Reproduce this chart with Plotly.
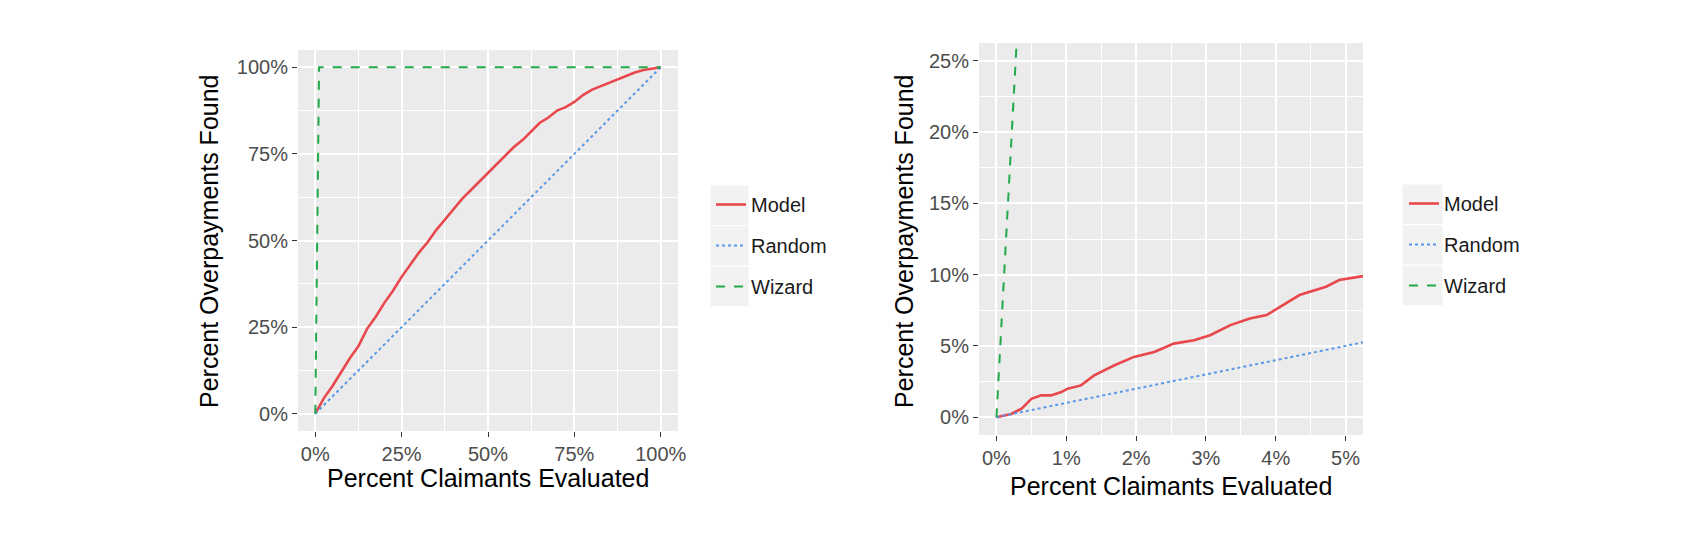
import plotly.graph_objects as go

# ---------------- data (percent units) ----------------
series_names = ["Model", "Random", "Wizard"]

model_x_full = [0, 2.5, 5, 7.5, 10, 12.5, 15, 17.5, 20, 22.5, 25, 27.5, 30, 32.5, 35, 37.5, 40,
                42.5, 45, 47.5, 50, 52.5, 55, 57.5, 60, 62.5, 65, 67.5, 70, 72.5, 75, 77.5, 80,
                82.5, 85, 87.5, 90, 92.5, 95, 97.5, 100]
model_y_full = [0, 4.5, 8, 12, 16, 19.5, 24.5, 28, 32, 35.5, 39.5, 43, 46.5, 49.5, 53, 56, 59,
                62, 64.5, 67, 69.5, 72, 74.5, 77, 79, 81.5, 84, 85.5, 87.5, 88.5, 90, 92, 93.5,
                94.5, 95.5, 96.5, 97.5, 98.5, 99.2, 99.7, 100]

model_x_zoom = [0, 0.21, 0.36, 0.5, 0.64, 0.78, 0.93, 1.02, 1.21, 1.4, 1.69, 1.97, 2.26, 2.54, 2.83,
                3.06, 3.35, 3.63, 3.87, 4.06, 4.34, 4.72, 4.91, 5.25]
model_y_zoom = [0, 0.23, 0.59, 1.29, 1.53, 1.53, 1.76, 2.0, 2.23, 2.93, 3.64, 4.23, 4.58, 5.16, 5.4,
                5.75, 6.46, 6.92, 7.16, 7.75, 8.57, 9.15, 9.62, 9.9]

random_x = [0, 100]
random_y = [0, 100]

wizard_x = [0, 1.1, 100]
wizard_y = [0, 100, 100]

left_ticks = [0, 25, 50, 75, 100]
left_tick_text = ["0%", "25%", "50%", "75%", "100%"]
left_minor = [12.5, 37.5, 62.5, 87.5]

right_x_ticks = [0, 1, 2, 3, 4, 5]
right_x_text = ["0%", "1%", "2%", "3%", "4%", "5%"]
right_x_minor = [0.5, 1.5, 2.5, 3.5, 4.5]
right_y_ticks = [0, 5, 10, 15, 20, 25]
right_y_text = ["0%", "5%", "10%", "15%", "20%", "25%"]
right_y_minor = [2.5, 7.5, 12.5, 17.5, 22.5]

x_title = "Percent Claimants Evaluated"
y_title = "Percent Overpayments Found"

# ---------------- styling ----------------
W, H = 1682, 556
OFF = 8  # page body margin in the browser
FONT = "Liberation Sans, Arial, sans-serif"
RED, BLUE, GREEN = "#E8474B", "#5B97E6", "#22A94A"
PANEL = "#EBEBEB"

def px_x(x):
    return (x - OFF) / W

def px_y(y):
    return 1 - (y - OFF) / H

fig = go.Figure()

styles = {
    "Model": dict(color=RED, width=2.6, dash="solid"),
    "Random": dict(color=BLUE, width=2.0, dash="dot"),
    "Wizard": dict(color=GREEN, width=2.0, dash="dash"),
}

left_data = {
    "Model": (model_x_full, model_y_full),
    "Random": (random_x, random_y),
    "Wizard": (wizard_x, wizard_y),
}
right_data = {
    "Model": (model_x_zoom, model_y_zoom),
    "Random": (random_x, random_y),
    "Wizard": (wizard_x, wizard_y),
}

for name in series_names:
    x, y = left_data[name]
    fig.add_trace(go.Scatter(x=x, y=y, mode="lines", name=name, line=styles[name],
                             xaxis="x", yaxis="y", legend="legend",
                             legendgroup="L" + name))
for name in series_names:
    x, y = right_data[name]
    fig.add_trace(go.Scatter(x=x, y=y, mode="lines", name=name, line=styles[name],
                             xaxis="x2", yaxis="y2", legend="legend2",
                             legendgroup="R" + name))

tickfont = dict(family=FONT, size=20, color="#4D4D4D")
titlefont = dict(family=FONT, size=25, color="#000000")

def axis(domain, rng, tickvals, ticktext, minor, anchor):
    return dict(
        domain=domain, range=rng, anchor=anchor, automargin=False,
        tickmode="array", tickvals=tickvals, ticktext=ticktext,
        tickfont=tickfont, ticks="outside", ticklen=5, tickwidth=1.4, tickcolor="#333333",
        showgrid=True, gridcolor="white", gridwidth=1.8, zeroline=False, showline=False,
        minor=dict(tickvals=minor, showgrid=True, gridcolor="white", gridwidth=0.9, ticks=""),
        fixedrange=True,
    )

lx = [px_x(298), px_x(678)]
ly = [px_y(431), px_y(50)]
rx = [px_x(979), px_x(1363)]
ry = [px_y(435), px_y(43)]

fig.update_layout(
    width=W, height=H,
    margin=dict(l=0, r=0, t=0, b=0, autoexpand=False),
    paper_bgcolor="white", plot_bgcolor=PANEL,
    font=dict(family=FONT),
    xaxis=axis(lx, [-5, 105], left_ticks, left_tick_text, left_minor, "y"),
    yaxis=axis(ly, [-5, 105], left_ticks, left_tick_text, left_minor, "x"),
    xaxis2=axis(rx, [-0.25, 5.25], right_x_ticks, right_x_text, right_x_minor, "y2"),
    yaxis2=axis(ry, [-1.25, 26.25], right_y_ticks, right_y_text, right_y_minor, "x2"),
    legend=dict(x=px_x(711), y=px_y(185), xanchor="left", yanchor="top",
                bgcolor="rgba(0,0,0,0)", font=dict(family=FONT, size=20, color="#1A1A1A"),
                tracegroupgap=12, itemclick=False, itemdoubleclick=False),
    legend2=dict(x=px_x(1404), y=px_y(184), xanchor="left", yanchor="top",
                 bgcolor="rgba(0,0,0,0)", font=dict(family=FONT, size=20, color="#1A1A1A"),
                 tracegroupgap=12, itemclick=False, itemdoubleclick=False),
    showlegend=True,
)

# axis titles
annotations = []
for (cx, cy) in [(488, 478), (1171, 486)]:
    annotations.append(dict(text=x_title, xref="paper", yref="paper", x=px_x(cx), y=px_y(cy),
                            xanchor="center", yanchor="middle", showarrow=False, font=titlefont))
for (cx, cy) in [(209, 241), (904, 241)]:
    annotations.append(dict(text=y_title, xref="paper", yref="paper", x=px_x(cx), y=px_y(cy),
                            xanchor="center", yanchor="middle", showarrow=False, textangle=-90,
                            font=titlefont))
fig.update_layout(annotations=annotations)

# grey legend key backgrounds (ggplot style)
shapes = []
for (x0, x1, y0) in [(710, 749, 185), (1402, 1443, 184)]:
    for i in range(3):
        shapes.append(dict(type="rect", xref="paper", yref="paper",
                           x0=px_x(x0), x1=px_x(x1),
                           y0=px_y(y0 + 40.6 * (i + 1)), y1=px_y(y0 + 40.6 * i),
                           fillcolor="#F2F2F2", line=dict(color="white", width=1), layer="below"))
fig.update_layout(shapes=shapes)

fig.write_html("out.html")
